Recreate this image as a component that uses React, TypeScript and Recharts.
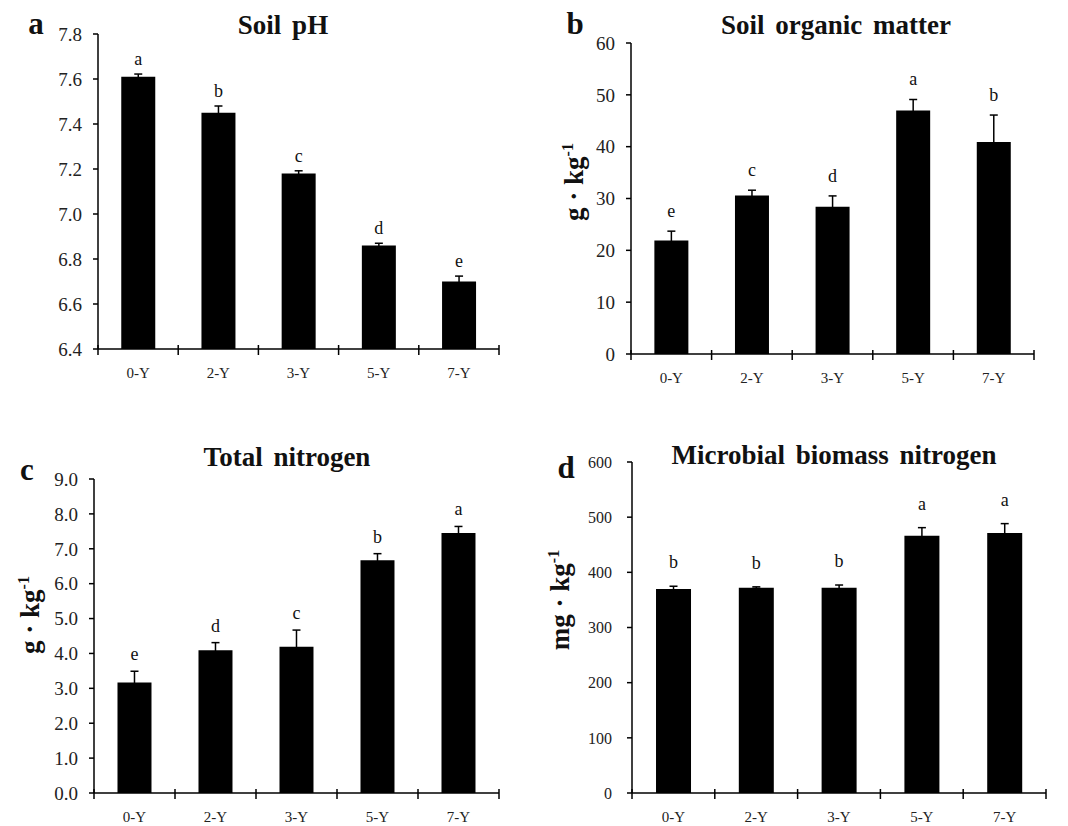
import { BarChart, Bar, XAxis, YAxis, ErrorBar, LabelList } from 'recharts';

// ---- data ----
const YEARS = ['0-Y', '2-Y', '3-Y', '5-Y', '7-Y'];

const PH = [7.61, 7.45, 7.18, 6.86, 6.7];
const PH_SE = [0.012, 0.03, 0.012, 0.01, 0.024];
const PH_SIG = ['a', 'b', 'c', 'd', 'e'];
const PH_TICKS = [6.4, 6.6, 6.8, 7.0, 7.2, 7.4, 7.6, 7.8];

const SOM = [21.9, 30.6, 28.4, 47.0, 40.9];
const SOM_SE = [1.8, 1.0, 2.1, 2.1, 5.2];
const SOM_SIG = ['e', 'c', 'd', 'a', 'b'];
const SOM_TICKS = [0, 10, 20, 30, 40, 50, 60];

const TN = [3.17, 4.09, 4.19, 6.67, 7.45];
const TN_SE = [0.32, 0.22, 0.48, 0.19, 0.19];
const TN_SIG = ['e', 'd', 'c', 'b', 'a'];
const TN_TICKS = [0, 1, 2, 3, 4, 5, 6, 7, 8, 9];

const MBN = [369.8, 372.2, 372.0, 466.5, 471.3];
const MBN_SE = [5, 1.5, 5, 14.5, 17];
const MBN_SIG = ['b', 'b', 'b', 'a', 'a'];
const MBN_TICKS = [0, 100, 200, 300, 400, 500, 600];

const FONT = "'Liberation Serif', 'Times New Roman', serif";

/* x-axis tick: label plus boundary ticks crossing the axis */
function XTick(props: any) {
  const { x, y, payload, index, band, count } = props;
  return (
    <g>
      <line x1={x - band / 2} x2={x - band / 2} y1={y - 4} y2={y + 6} stroke="#000" strokeWidth={1.5} />
      {index === count - 1 && (
        <line x1={x + band / 2} x2={x + band / 2} y1={y - 4} y2={y + 6} stroke="#000" strokeWidth={1.5} />
      )}
      <text x={x} y={y + 29} textAnchor="middle" fontSize={15} fill="#222" fontFamily={FONT}>
        {payload.value}
      </text>
    </g>
  );
}

/* significance letter above the error bar */
function SigLabel(props: any) {
  const { index, means, errs, sigs, yMin, gap } = props;
  const vb = props.viewBox || {};
  const x = props.x ?? vb.x;
  const y = props.y ?? vb.y;
  const width = props.width ?? vb.width;
  const height = props.height ?? vb.height;
  const pxPerUnit = height / (means[index] - yMin);
  const top = y - errs[index] * pxPerUnit;
  return (
    <text x={x + width / 2} y={top - gap} textAnchor="middle" fontSize={18} fill="#111" fontFamily={FONT}>
      {sigs[index]}
    </text>
  );
}

type PanelProps = {
  left: number;
  top: number;
  height: number;
  margin: { top: number; right: number; bottom: number; left: number };
  band: number;
  means: number[];
  errs: number[];
  sigs: string[];
  ticks: number[];
  digits: number;
  tickFont: number;
  tickMargin: number;
  gap: number;
};

function Panel(p: PanelProps) {
  const data = YEARS.map((year, i) => ({ year, value: p.means[i], err: p.errs[i], sig: p.sigs[i] }));
  const yMin = p.ticks[0];
  const yMax = p.ticks[p.ticks.length - 1];
  return (
    <div style={{ position: 'absolute', left: p.left, top: p.top }}>
      <BarChart width={534} height={p.height} data={data} margin={p.margin} barCategoryGap="29%">
        <XAxis
          dataKey="year"
          height={30}
          interval={0}
          tickSize={0}
          tickMargin={0}
          tickLine={false}
          axisLine={{ stroke: '#000', strokeWidth: 1.5 }}
          tick={(t: any) => <XTick {...t} band={p.band} count={YEARS.length} />}
        />
        <YAxis
          width={60}
          domain={[yMin, yMax]}
          ticks={p.ticks}
          interval={0}
          allowDataOverflow
          tickSize={5}
          tickMargin={p.tickMargin}
          tickFormatter={(v: number) => v.toFixed(p.digits)}
          tick={{ fill: '#222', fontSize: p.tickFont, fontFamily: FONT }}
          tickLine={{ stroke: '#000', strokeWidth: 1.5 }}
          axisLine={{ stroke: '#000', strokeWidth: 1.5 }}
        />
        <Bar dataKey="value" fill="#000" isAnimationActive={false}>
          <ErrorBar dataKey="err" width={4} stroke="#000" strokeWidth={1.5} direction="y" isAnimationActive={false} />
          <LabelList
            dataKey="sig"
            content={(l: any) => (
              <SigLabel {...l} means={p.means} errs={p.errs} sigs={p.sigs} yMin={yMin} gap={p.gap} />
            )}
          />
        </Bar>
      </BarChart>
    </div>
  );
}

const titleStyle = (cx: number, cy: number): React.CSSProperties => ({
  position: 'absolute',
  left: cx - 250,
  top: cy - 15,
  width: 500,
  height: 30,
  lineHeight: '30px',
  textAlign: 'center',
  fontWeight: 'bold',
  fontSize: 27,
  wordSpacing: 4,
  color: '#111',
});

const letterStyle = (cx: number, cy: number): React.CSSProperties => ({
  position: 'absolute',
  left: cx - 20,
  top: cy - 18,
  width: 40,
  height: 36,
  lineHeight: '36px',
  textAlign: 'center',
  fontWeight: 'bold',
  fontSize: 31,
  color: '#111',
});

const unitStyle = (cx: number, cy: number): React.CSSProperties => ({
  position: 'absolute',
  left: cx,
  top: cy,
  transform: 'translate(-50%, -50%) rotate(-90deg)',
  whiteSpace: 'nowrap',
  fontWeight: 'bold',
  fontSize: 27,
  lineHeight: '28px',
  color: '#111',
});

export default function App() {
  return (
    <div
      style={{
        position: 'absolute',
        left: 0,
        top: 0,
        width: 1068,
        height: 826,
        background: '#fff',
        fontFamily: FONT,
        overflow: 'hidden',
      }}
    >
      {/* a - soil pH */}
      <Panel
        left={0}
        top={0}
        height={410}
        margin={{ top: 34, right: 35, bottom: 31, left: 38 }}
        band={80.2}
        means={PH}
        errs={PH_SE}
        sigs={PH_SIG}
        ticks={PH_TICKS}
        digits={1}
        tickFont={19}
        tickMargin={11}
        gap={9}
      />
      {/* b - soil organic matter */}
      <Panel
        left={534}
        top={0}
        height={410}
        margin={{ top: 43, right: 34, bottom: 26, left: 37 }}
        band={80.6}
        means={SOM}
        errs={SOM_SE}
        sigs={SOM_SIG}
        ticks={SOM_TICKS}
        digits={0}
        tickFont={19}
        tickMargin={11}
        gap={14}
      />
      {/* c - total nitrogen */}
      <Panel
        left={0}
        top={410}
        height={416}
        margin={{ top: 69, right: 35, bottom: 3, left: 34 }}
        band={81}
        means={TN}
        errs={TN_SE}
        sigs={TN_SIG}
        ticks={TN_TICKS}
        digits={1}
        tickFont={19}
        tickMargin={11}
        gap={11}
      />
      {/* d - microbial biomass nitrogen */}
      <Panel
        left={534}
        top={410}
        height={416}
        margin={{ top: 52, right: 22, bottom: 3, left: 38 }}
        band={82.8}
        means={MBN}
        errs={MBN_SE}
        sigs={MBN_SIG}
        ticks={MBN_TICKS}
        digits={0}
        tickFont={16}
        tickMargin={15}
        gap={18}
      />

      <div style={titleStyle(283, 25)}>Soil pH</div>
      <div style={titleStyle(836, 25)}>Soil organic matter</div>
      <div style={titleStyle(287, 457)}>Total nitrogen</div>
      <div style={titleStyle(834, 455)}>Microbial biomass nitrogen</div>

      <div style={letterStyle(36, 24)}>a</div>
      <div style={letterStyle(575, 24)}>b</div>
      <div style={letterStyle(27, 470)}>c</div>
      <div style={letterStyle(566, 468)}>d</div>

      <div style={unitStyle(571, 182)}>
        g · kg<sup style={{ fontSize: 16 }}>-1</sup>
      </div>
      <div style={unitStyle(27, 615)}>
        g · kg<sup style={{ fontSize: 16 }}>-1</sup>
      </div>
      <div style={unitStyle(557, 600)}>
        mg · kg<sup style={{ fontSize: 16 }}>-1</sup>
      </div>
    </div>
  );
}
